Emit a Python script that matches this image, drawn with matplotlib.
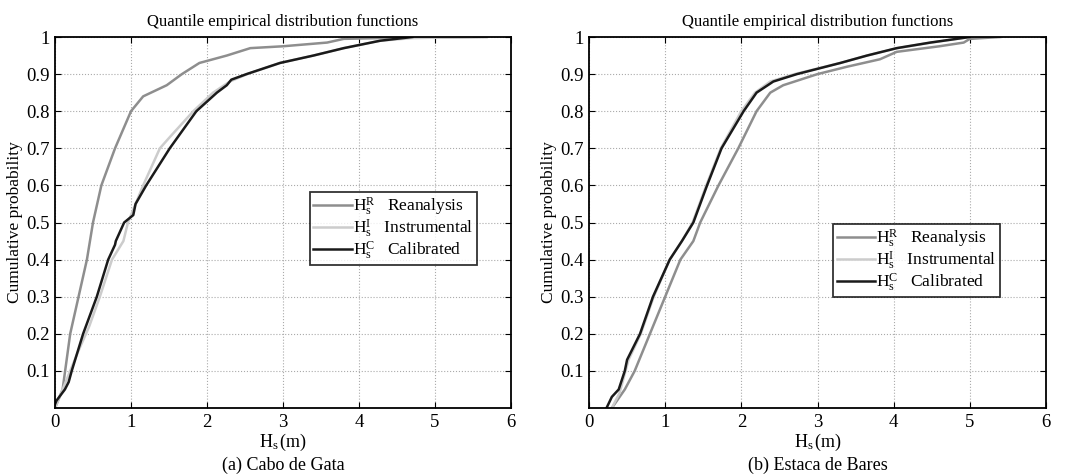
import matplotlib
matplotlib.use("Agg")
import matplotlib.pyplot as plt

plt.rcParams['font.family'] = ['Liberation Serif', 'DejaVu Serif']
plt.rcParams['mathtext.fontset'] = 'custom'
plt.rcParams['mathtext.rm'] = 'Liberation Serif'
plt.rcParams['mathtext.it'] = 'Liberation Serif:italic'

# ---- data ----
# Panel (a) Cabo de Gata
a_rea_x = [0.0, 0.1, 0.2, 0.42, 0.5, 0.61, 0.79, 1.0, 1.16, 1.47, 1.67, 1.9, 2.26, 2.57, 3.0, 3.58, 3.8, 4.5, 5.68]
a_rea_p = [0.0, 0.05, 0.2, 0.4, 0.5, 0.6, 0.7, 0.8, 0.84, 0.87, 0.9, 0.93, 0.95, 0.97, 0.975, 0.985, 0.995, 0.998, 1.0]
a_ins_x = [0.0, 0.1, 0.3, 0.45, 0.59, 0.75, 0.9, 0.96, 1.16, 1.38, 1.51, 1.82, 2.08, 2.3, 2.53, 2.96, 3.4, 3.8, 4.28, 4.7, 5.48]
a_ins_p = [0.0, 0.05, 0.15, 0.22, 0.3, 0.4, 0.45, 0.5, 0.6, 0.7, 0.73, 0.8, 0.85, 0.88, 0.9, 0.93, 0.95, 0.97, 0.99, 0.997, 1.0]
a_cal_x = [0.0, 0.02, 0.13, 0.18, 0.22, 0.37, 0.55, 0.70, 0.79, 0.8, 0.91, 1.03, 1.06, 1.2, 1.51, 1.86, 2.13, 2.26, 2.32, 2.52, 2.96, 3.4, 3.8, 4.28, 4.7]
a_cal_p = [0.01, 0.02, 0.05, 0.07, 0.1, 0.2, 0.3, 0.4, 0.44, 0.45, 0.5, 0.52, 0.55, 0.6, 0.7, 0.8, 0.85, 0.87, 0.885, 0.9, 0.93, 0.95, 0.97, 0.99, 1.0]

# Panel (b) Estaca de Bares
b_rea_x = [0.30, 0.47, 0.60, 0.80, 1.0, 1.2, 1.37, 1.46, 1.70, 1.96, 2.2, 2.38, 2.55, 3.0, 3.39, 3.82, 4.04, 4.6, 4.92, 5.0, 5.4]
b_rea_p = [0.0, 0.05, 0.1, 0.2, 0.3, 0.4, 0.45, 0.5, 0.6, 0.7, 0.8, 0.85, 0.87, 0.9, 0.92, 0.94, 0.96, 0.975, 0.985, 0.995, 1.0]
b_ins_x = [0.30, 0.40, 0.48, 0.52, 0.68, 0.85, 1.06, 1.22, 1.36, 1.54, 1.73, 2.0, 2.18, 2.38, 2.7, 3.3, 3.65, 4.05, 4.5, 5.0]
b_ins_p = [0.0, 0.04, 0.1, 0.13, 0.2, 0.3, 0.4, 0.45, 0.5, 0.6, 0.7, 0.8, 0.85, 0.88, 0.9, 0.93, 0.95, 0.97, 0.985, 1.0]
b_cal_x = [0.23, 0.30, 0.39, 0.47, 0.50, 0.67, 0.84, 1.06, 1.22, 1.37, 1.55, 1.74, 2.03, 2.2, 2.42, 2.73, 3.3, 3.65, 4.04, 4.48, 5.0]
b_cal_p = [0.0, 0.03, 0.05, 0.1, 0.13, 0.2, 0.3, 0.4, 0.45, 0.5, 0.6, 0.7, 0.8, 0.85, 0.88, 0.9, 0.93, 0.95, 0.97, 0.985, 1.0]

xticks = [0, 1, 2, 3, 4, 5, 6]
yticks = [0.1, 0.2, 0.3, 0.4, 0.5, 0.6, 0.7, 0.8, 0.9, 1.0]
ytick_labels = ['0.1', '0.2', '0.3', '0.4', '0.5', '0.6', '0.7', '0.8', '0.9', '1']
labels = [r'$\mathrm{H}_\mathrm{s}^\mathrm{R}$   Reanalysis',
          r'$\mathrm{H}_\mathrm{s}^\mathrm{I}$   Instrumental',
          r'$\mathrm{H}_\mathrm{s}^\mathrm{C}$   Calibrated']
captions = ['(a) Cabo de Gata', '(b) Estaca de Bares']
colors = ['#8e8e8e', '#cccccc', '#1a1a1a']

fig = plt.figure(figsize=(10.67, 4.76), dpi=100)
W, H = 1067, 476
axes_px = [(55, 511), (589, 1046)]
top_px, bot_px = 37, 408
leg_anchor = [(0.559, 0.582), (0.534, 0.496)]

panels = [
    [(a_rea_x, a_rea_p), (a_ins_x, a_ins_p), (a_cal_x, a_cal_p)],
    [(b_rea_x, b_rea_p), (b_ins_x, b_ins_p), (b_cal_x, b_cal_p)],
]

for i, (l, r) in enumerate(axes_px):
    ax = fig.add_axes([l / W, 1 - bot_px / H, (r - l) / W, (bot_px - top_px) / H])
    for (x, p), c, lab in zip(panels[i], colors, labels):
        ax.plot(x, p, color=c, lw=1.8, label=lab)
    ax.set_xlim(0, 6)
    ax.set_ylim(0, 1)
    ax.set_xticks(xticks)
    ax.set_yticks(yticks)
    ax.set_yticklabels(ytick_labels)
    ax.tick_params(direction='in', labelsize=13.5, length=4, width=0.8, top=True, right=True, pad=4)
    ax.grid(True, linestyle=':', color='#aaaaaa', lw=0.8)
    for s in ax.spines.values():
        s.set_linewidth(1.3)
    ax.set_title('Quantile empirical distribution functions', fontsize=12, pad=8)
    ax.set_xlabel(r'$\mathrm{H}_\mathrm{s}\,$(m)', fontsize=13, labelpad=1)
    ax.set_ylabel('Cumulative probability', fontsize=12.5, labelpad=2)
    cx = (l + r) / 2 / W
    fig.text(cx, 1 - 465 / H, captions[i], ha='center', va='center', fontsize=13)
    leg = ax.legend(loc='upper left', bbox_to_anchor=leg_anchor[i], borderaxespad=0,
                    fontsize=12.5, frameon=True, fancybox=False, edgecolor='black',
                    handlelength=2.2, handletextpad=0.1, labelspacing=0.0, borderpad=0.2)
    leg.get_frame().set_linewidth(1.3)

fig.savefig('out.png', dpi=100)
